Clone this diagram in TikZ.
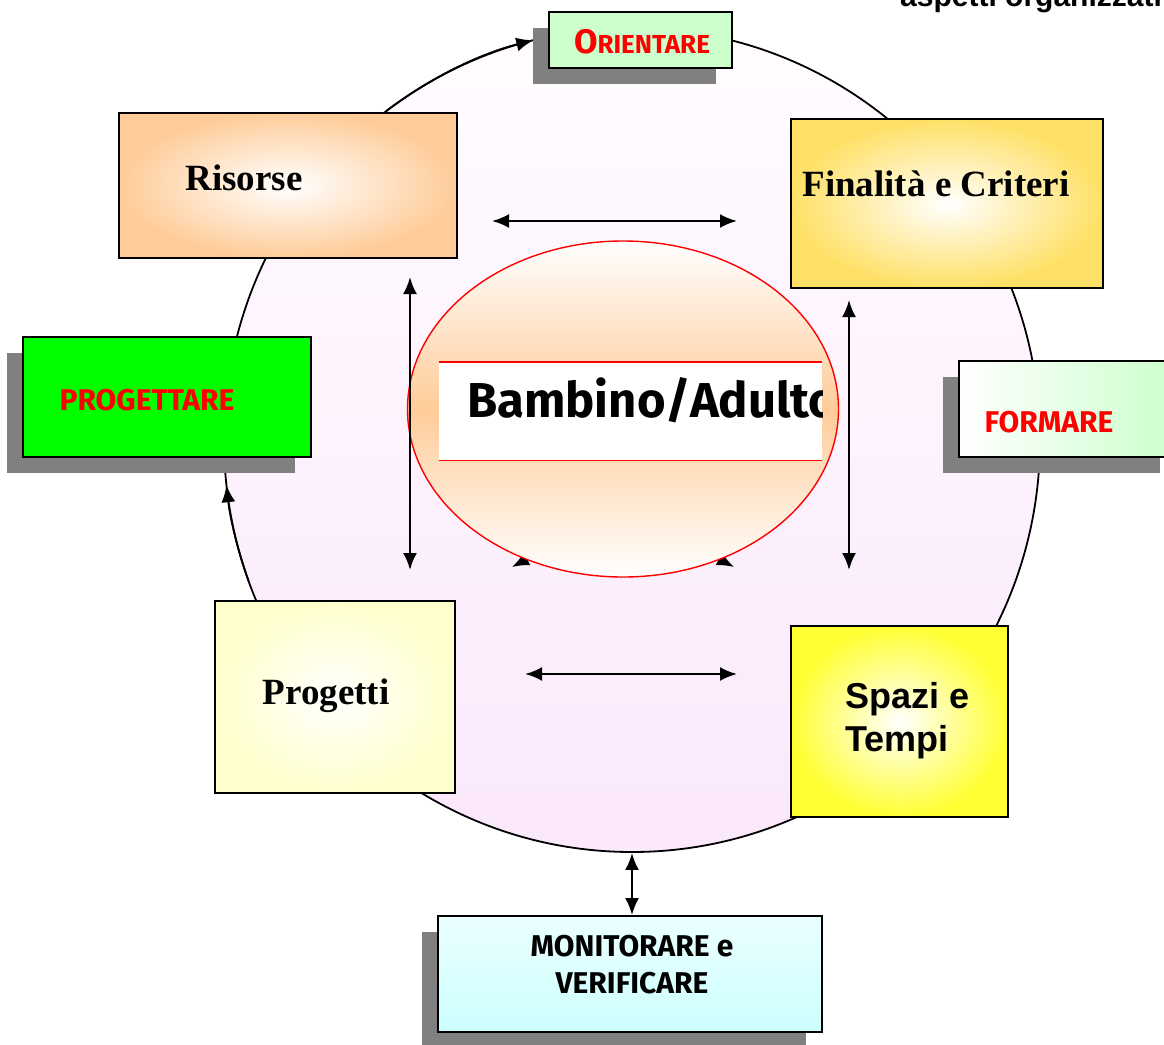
\documentclass[tikz,border=0pt]{standalone}
\usepackage{fontspec}
\setmainfont{Liberation Serif}
\newfontfamily\arialfont{Liberation Sans}
\newfontfamily\comicfont{Fira Sans}
\usetikzlibrary{arrows.meta,shapes.geometric,shadows}
\definecolor{ringtop}{RGB}{255,252,255}
\definecolor{ringbot}{RGB}{251,232,251}
\definecolor{peach}{RGB}{255,204,153}
\definecolor{gold}{RGB}{255,224,102}
\definecolor{cream}{RGB}{255,255,204}
\definecolor{lemon}{RGB}{255,255,51}
\definecolor{mint}{RGB}{204,255,204}
\definecolor{aqua}{RGB}{204,255,255}
\definecolor{brightgreen}{RGB}{0,255,0}

\begin{document}
\begin{tikzpicture}
[every node/.style={inner sep=0pt},
 panel/.style={rectangle, draw=black, line width=1.8pt},
 shadowed/.style={drop shadow={shadow xshift=-16pt, shadow yshift=-16pt, fill=gray, opacity=1}},
 dbl/.style={line width=2.4pt, {Latex[length=17pt,width=14pt]}-{Latex[length=17pt,width=14pt]}},
 tip/.style={line width=1.8pt, -{Latex[length=17pt,width=14pt]}},
 title/.style={font=\bfseries\fontsize{37pt}{44pt}\selectfont},
 caps/.style={text=red, font=\comicfont\bfseries\fontsize{30pt}{36pt}\selectfont}]
\useasboundingbox (0pt, 0pt) rectangle (1164pt, -1044pt);
\clip (0pt, 0pt) rectangle (1164pt, -1044pt);
\fill [white] (0pt, 0pt) rectangle (1164pt, -1044pt);
% the cycle
\node (ring) [ellipse, minimum width=816pt, minimum height=824pt, draw=black, line width=1.8pt, top color=ringtop, bottom color=ringbot] at (632pt, -440pt) {};
\draw [tip] ([shift={(127:408pt and 412pt)}]ring.center) arc [start angle=127, end angle=104, x radius=408pt, y radius=412pt];
\draw [tip] ([shift={(200:408pt and 412pt)}]ring.center) arc [start angle=200, end angle=186.3, x radius=408pt, y radius=412pt];
% arrows hidden under the centre
\coordinate (hl) at (600pt, -520pt);
\coordinate (hl2) at (512pt, -567pt);
\coordinate (hr) at (646pt, -520pt);
\coordinate (hr2) at (734pt, -567pt);
\draw [tip] (hl) -- (hl2);
\draw [tip] (hr) -- (hr2);
% centre
\node (core) [ellipse, minimum width=431pt, minimum height=336pt, draw=red, line width=1.4pt, top color=white, bottom color=white, middle color=peach] at (623pt, -409pt) {};
\node (band) [fill=white, minimum width=383pt, minimum height=98pt] at (630.5pt, -411pt) {};
\draw [red, line width=1.4pt] (band.north west) -- (band.north east) (band.south west) -- (band.south east);
\begin{scope}
\clip (band.south west) rectangle (band.north east);
\node (who) [anchor=west, font=\comicfont\bfseries\fontsize{49pt}{56pt}\selectfont] at (467pt, -400pt) {Bambino/Adulto};
\end{scope}
% boxes
\node (orient) [panel, shadowed, fill=mint, minimum width=183pt, minimum height=56pt] at (640.5pt, -40pt) {};
\node (orienttxt) [text=red, font=\comicfont\bfseries] at (642pt, -42pt) {{\fontsize{34pt}{34pt}\selectfont O}{\fontsize{26pt}{26pt}\selectfont RIENTARE}};
\node (risorse) [panel, inner color=white, outer color=peach, minimum width=338pt, minimum height=145pt] at (288pt, -185.5pt) {};
\node (risorsetxt) [title] at (244pt, -178pt) {Risorse};
\node (finalita) [panel, inner color=white, outer color=gold, minimum width=312pt, minimum height=169pt] at (947pt, -203.5pt) {};
\node (finalitatxt) [title] at (936pt, -184pt) {Finalità e Criteri};
\node (progettare) [panel, shadowed, fill=brightgreen, minimum width=288pt, minimum height=120pt] at (167pt, -397pt) {};
\node (progettaretxt) [caps] at (147pt, -400pt) {PROGETTARE};
\node (formare) [panel, shadowed, left color=white, right color=mint, minimum width=217pt, minimum height=96pt] at (1067.5pt, -409pt) {};
\node (formaretxt) [caps] at (1049pt, -422pt) {FORMARE};
\node (progetti) [panel, inner color=white, outer color=cream, minimum width=240pt, minimum height=192pt] at (335pt, -697pt) {};
\node (progettitxt) [title] at (326pt, -696pt) {Progetti};
\node (spazi) [panel, inner color=white, outer color=lemon, minimum width=217pt, minimum height=191pt] at (899.5pt, -721.5pt) {};
\node (spazitxt) [anchor=west, align=left, font=\arialfont\bfseries\fontsize{36pt}{43pt}\selectfont] at (845pt, -721pt) {Spazi e\\Tempi};
\node (monitor) [panel, shadowed, top color=aqua!40!white, bottom color=aqua, minimum width=384pt, minimum height=116pt] at (630pt, -974pt) {};
\node (monitortxt) [align=center, font=\comicfont\bfseries\fontsize{30pt}{37pt}\selectfont] at (632pt, -964.5pt) {MONITORARE e\\VERIFICARE};
% links
\coordinate (ra) at (492pt, -221pt);
\coordinate (rb) at (737pt, -221pt);
\coordinate (pa) at (525pt, -674pt);
\coordinate (pb) at (737pt, -674pt);
\coordinate (la) at (410pt, -277pt);
\coordinate (lb) at (410pt, -570pt);
\coordinate (fa) at (849pt, -300pt);
\coordinate (fb) at (849pt, -570pt);
\draw [dbl] (ra) -- (rb);
\draw [dbl] (pa) -- (pb);
\draw [dbl] (la) -- (lb);
\draw [dbl] (fa) -- (fb);
\draw [dbl] (ring.south) -- (ring.south |- monitor.north);
\node (aspetti) [anchor=base west, font=\arialfont\bfseries\fontsize{30pt}{36pt}\selectfont] at (900pt, -6pt) {aspetti organizzativi};
\end{tikzpicture}
\end{document}
